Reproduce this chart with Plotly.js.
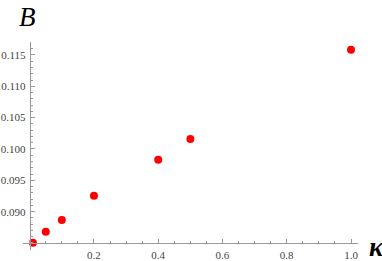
<!DOCTYPE html>
<html>
<head>
<meta charset="utf-8">
<script src="https://cdn.plot.ly/plotly-3.0.1.min.js"></script>
<style>html,body{margin:0;padding:0;background:#fff;}#chart{width:382px;height:261px;}</style>
</head>
<body>
<div id="chart"></div>
<script>
const kappa = [0.01, 0.05, 0.1, 0.2, 0.4, 0.5, 1.0];
const Bvals = [0.08505, 0.0868, 0.08867, 0.09255, 0.09829, 0.10159, 0.11584];
const xTicks = [0.2, 0.4, 0.6, 0.8, 1.0];
const yTicks = [0.090, 0.095, 0.100, 0.105, 0.110, 0.115];

const serif = 'Liberation Serif';
const tickFont = {family: serif, size: 11, color: '#444'};
const trace = {
  x: kappa, y: Bvals, type: 'scatter', mode: 'markers',
  marker: {color: '#ff0000', size: 8},
  cliponaxis: false, hoverinfo: 'none'
};
const layout = {
  width: 382, height: 261,
  font: {family: serif},
  margin: {l: 23, r: 24, t: 42, b: 11, pad: 0},
  paper_bgcolor: '#fff', plot_bgcolor: '#fff',
  showlegend: false,
  xaxis: {
    range: [-0.0209, 1.0218], anchor: 'free', position: 0.0337,
    showline: true, linecolor: '#999', linewidth: 1,
    showgrid: false, zeroline: false,
    tickmode: 'array', tickvals: xTicks, tickformat: '.1f',
    ticks: 'inside', ticklen: 4, tickcolor: '#999', tickwidth: 1,
    minor: {ticks: 'inside', tickmode: 'linear', tick0: 0, dtick: 0.05, ticklen: 2, tickcolor: '#999', showgrid: false},
    tickfont: tickFont, ticklabelstandoff: 2
  },
  yaxis: {
    range: [0.08388, 0.11707], anchor: 'free', position: 0.02,
    showline: true, linecolor: '#999', linewidth: 1,
    showgrid: false, zeroline: false,
    tickmode: 'array', tickvals: yTicks, tickformat: '.3f',
    ticks: 'inside', ticklen: 4, tickcolor: '#999', tickwidth: 1,
    minor: {ticks: 'inside', tickmode: 'linear', tick0: 0.085, dtick: 0.001, ticklen: 2, tickcolor: '#999', showgrid: false},
    tickfont: tickFont, ticklabelstandoff: 2
  },
  annotations: [
    {text: '<i>B</i>', xref: 'paper', yref: 'paper', x: 0.0149, y: 1.12, xanchor: 'center', yanchor: 'middle', showarrow: false,
     font: {family: serif, size: 27, color: '#000'}},
    {text: '<b><i>κ</i></b>', xref: 'paper', yref: 'paper', x: 1.028, y: 0.015, xanchor: 'left', yanchor: 'middle', showarrow: false,
     font: {family: serif, size: 27, color: '#000'}}
  ]
};
Plotly.newPlot('chart', [trace], layout, {staticPlot: true, displayModeBar: false});
</script>
</body>
</html>
